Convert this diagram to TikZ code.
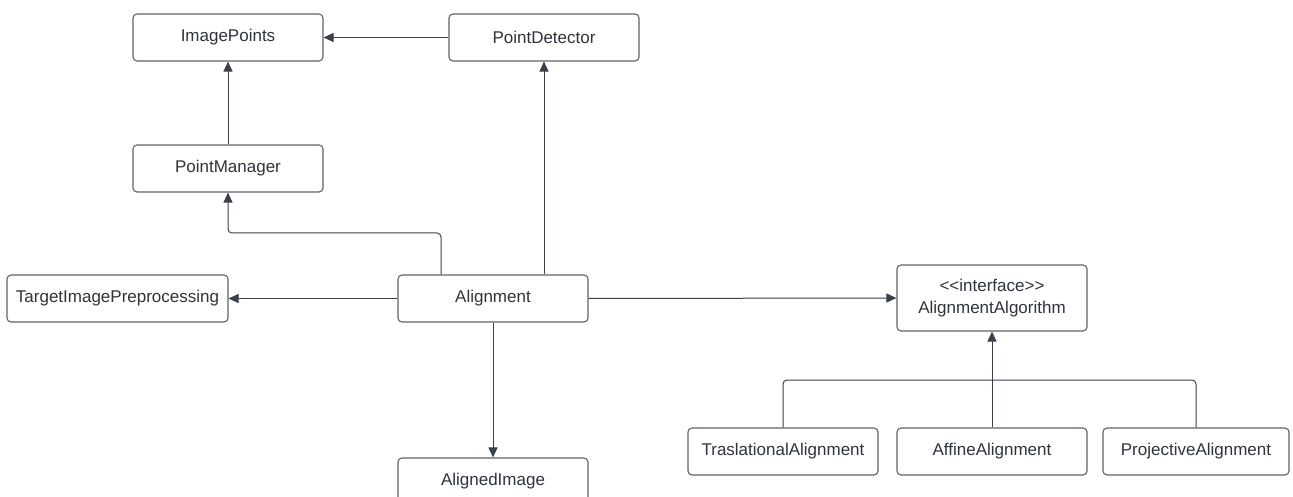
\documentclass[tikz,border=0pt]{standalone}
\usepackage{fontspec}
\setmainfont{Liberation Sans}
\usetikzlibrary{arrows.meta}
\definecolor{boxline}{HTML}{5E646C}
\definecolor{conn}{HTML}{3A414A}
\definecolor{txt}{HTML}{2F343B}
\begin{document}
\begin{tikzpicture}[x=1pt,y=-1pt,
  cls/.style={draw=boxline, line width=1.1pt, rounded corners=4pt, fill=white,
    minimum width=190pt, minimum height=47pt, inner sep=0pt, align=center,
    text=txt, font=\fontsize{17}{22}\selectfont},
  conn/.style={draw=conn, line width=1pt},
  arr/.style={conn, -{Triangle[length=10pt,width=9pt]}}
]
\useasboundingbox (0,0) rectangle (1293,497);
\node[cls] (ip) at (228,37.5) {ImagePoints};
\node[cls] (pd) at (544,37.5) {PointDetector};
\node[cls] (pm) at (228,168.5) {PointManager};
\node[cls, minimum width=221pt] (tip) at (117.5,298.5) {TargetImagePreprocessing};
\node[cls] (al) at (493,298.5) {Alignment};
\node[cls, minimum height=66pt] (aa) at (992,298) {{<}{<}interface{>}{>}\\AlignmentAlgorithm};
\node[cls] (tr) at (783,451.5) {TraslationalAlignment};
\node[cls] (af) at (992,451.5) {AffineAlignment};
\node[cls, minimum width=186pt] (pr) at (1196,451.5) {ProjectiveAlignment};
\node[cls] (ai) at (493,481.5) {AlignedImage};
\coordinate (elb) at (441,233);
\coordinate (bus) at (992,380);
% connectors
\draw[arr] (pd.west) -- (ip.east);
\draw[arr] (pm.north) -- (ip.south);
\draw[arr, rounded corners=4pt] ([xshift=-52pt]al.north) |- (elb -| pm.south) -- (pm.south);
\draw[arr] (al.north -| pd.south) -- (pd.south);
\draw[arr] (al.west) -- (tip.east);
\draw[arr] (al.east) -- (aa.west);
\draw[arr] (al.south) -- (ai.north);
\draw[conn, rounded corners=4pt] (tr.north) |- (bus) -| (pr.north);
\draw[arr] (af.north) -- (aa.south);
\end{tikzpicture}
\end{document}
